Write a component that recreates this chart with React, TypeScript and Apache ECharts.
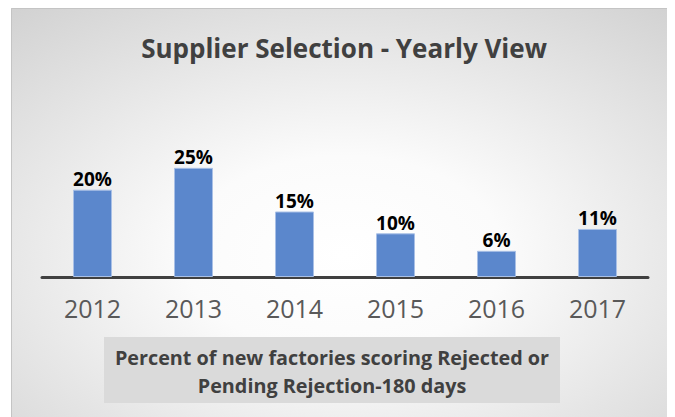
import React, { useEffect, useRef } from "react";
import * as echarts from "echarts";

const categories = ["2012", "2013", "2014", "2015", "2016", "2017"];
const values = [0.2, 0.25, 0.15, 0.1, 0.06, 0.11];
const titleText = "Supplier Selection - Yearly View";
const captionLines = ["Percent of new factories scoring Rejected or", "Pending Rejection-180 days"];

const W = 666;
const H = 411;

export default function App() {
  const ref = useRef<HTMLDivElement>(null);
  useEffect(() => {
    if (!ref.current) return;
    const chart = echarts.init(ref.current, undefined, { renderer: "svg" });
    const font = "'Open Sans', sans-serif";
    chart.setOption({
      animation: false,
      backgroundColor: {
        type: "radial",
        x: 0.5,
        y: 0.6,
        r: 0.8,
        colorStops: [
          { offset: 0, color: "#ffffff" },
          { offset: 0.3, color: "#fbfbfb" },
          { offset: 1, color: "#d0d0d0" },
        ],
      },
      title: {
        text: titleText,
        left: "center",
        top: 22,
        textStyle: { fontFamily: font, fontSize: 26, fontWeight: "bold", color: "#404040" },
      },
      grid: { left: 31, right: W - 637, top: 138, bottom: H - 269, containLabel: false },
      xAxis: {
        type: "category",
        data: categories,
        axisLine: { lineStyle: { color: "#404040", width: 3 } },
        axisTick: { show: false },
        axisLabel: { fontFamily: font, fontSize: 25, color: "#595959", margin: 18 },
      },
      yAxis: {
        type: "value",
        min: 0,
        max: 0.3,
        show: false,
        splitLine: { show: false },
      },
      series: [
        {
          type: "bar",
          data: values,
          barWidth: 39,
          itemStyle: { color: "#5b87cc", borderColor: "#a9c0e6", borderWidth: 1 },
          label: {
            show: true,
            position: "top",
            distance: 1,
            formatter: (p: any) => Math.round(p.value * 100) + "%",
            fontFamily: font,
            fontSize: 19,
            fontWeight: "bold",
            color: "#000000",
          },
        },
      ],
      graphic: [
        {
          type: "rect",
          shape: { x: 0.5, y: 0.5, width: W - 1, height: H - 1 },
          style: { fill: "none", stroke: "#c4c4c4", lineWidth: 1 },
          silent: true,
        },
        {
          type: "rect",
          shape: { x: 93, y: 329, width: 456, height: 66 },
          style: { fill: "#dadada" },
          silent: true,
        },
        {
          type: "text",
          x: 321,
          y: 363,
          style: {
            text: captionLines.join("\n"),
            fontFamily: font,
            fontSize: 19.8,
            fontWeight: "bold",
            fill: "#404040",
            align: "center",
            verticalAlign: "middle",
            lineHeight: 28,
          },
          silent: true,
        },
      ],
    });
    return () => chart.dispose();
  }, []);
  return <div ref={ref} style={{ width: W, height: H, marginLeft: 3 }} />;
}
